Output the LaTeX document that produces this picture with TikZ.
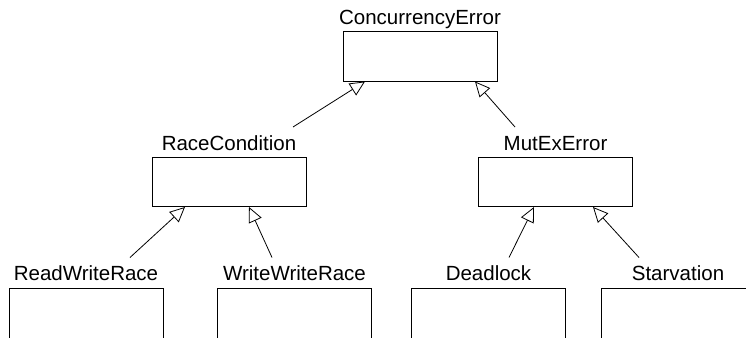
\documentclass[tikz,border=0pt]{standalone}
\usepackage{fontspec}
\setmainfont{Liberation Sans}
\usetikzlibrary{arrows.meta, positioning}

\begin{document}
\begin{tikzpicture}[x=1pt, y=-1pt, label distance=6.5pt,
    every label/.style={font=\fontsize{20.5}{24}\selectfont, inner sep=0pt, text depth=0pt}]
    \tikzstyle{cls} = [rectangle, draw, line width=1pt, minimum width=154pt, minimum height=49pt, inner sep=0pt]
    \tikzstyle{leaf} = [cls, minimum height=70pt]
    \tikzstyle{gen} = [-{Triangle[open, length=15pt, width=14pt]}, line width=0.8pt]
    \useasboundingbox (0,0) rectangle (746,337);
    \clip (0,0) rectangle (746,337);

    \node (concErr) [cls, label=above:ConcurrencyError] at (420,56.5) {};
    \node (raceCond) [cls, label=above:RaceCondition] at (229,182) {};
    \node (mutEx) [cls, label=above:MutExError] at (555.5,182) {};
    \node (rwRace) [leaf, label=above:ReadWriteRace] at (86,323) {};
    \node (wwRace) [leaf, label=above:WriteWriteRace] at (294.5,323) {};
    \node (deadlock) [leaf, label=above:Deadlock] at (488.5,323) {};
    \node (starvation) [leaf, label=above:Starvation] at (678,323) {};

    \draw [gen] ([xshift=64pt, yshift=30pt]raceCond.north) -- ([xshift=-55pt]concErr.south);
    \draw [gen] ([xshift=-40.5pt, yshift=30pt]mutEx.north) -- ([xshift=55pt]concErr.south);
    \draw [gen] ([xshift=44pt, yshift=30pt]rwRace.north) -- ([xshift=-44pt]raceCond.south);
    \draw [gen] ([xshift=-22.5pt, yshift=30pt]wwRace.north) -- ([xshift=20pt]raceCond.south);
    \draw [gen] ([xshift=20.5pt, yshift=30pt]deadlock.north) -- ([xshift=-21.5pt]mutEx.south);
    \draw [gen] ([xshift=-39pt, yshift=30pt]starvation.north) -- ([xshift=37.5pt]mutEx.south);

\end{tikzpicture}
\end{document}
